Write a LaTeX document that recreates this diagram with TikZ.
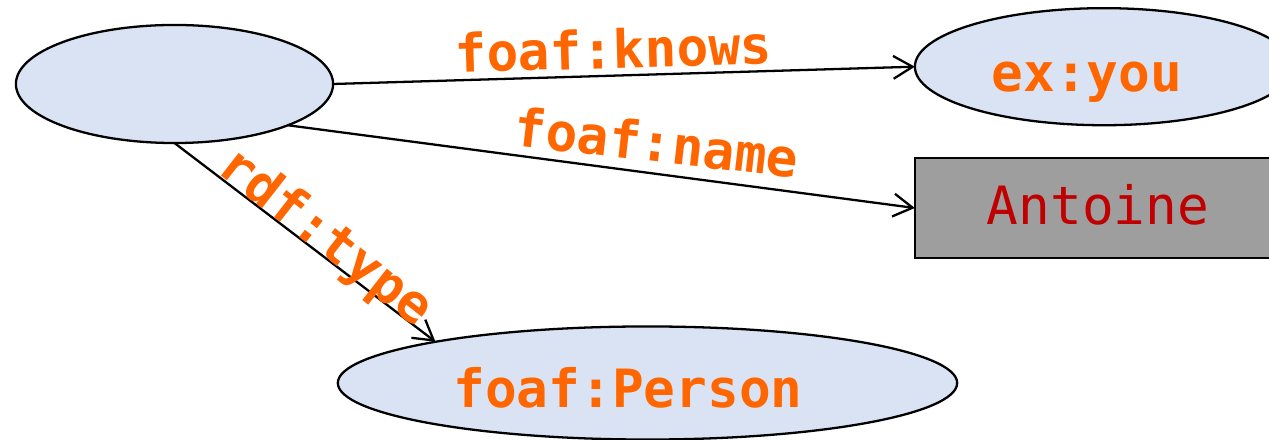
\documentclass[tikz,border=0pt]{standalone}
\usepackage{fontspec}
\setmonofont{DejaVu Sans Mono}
\usetikzlibrary{shapes.geometric,arrows.meta}
\definecolor{lblue}{HTML}{DAE3F3}
\definecolor{lorange}{HTML}{FF6600}
\definecolor{lgrey}{HTML}{9E9E9E}
\definecolor{dred}{HTML}{C00000}
\tikzset{
  res/.style={ellipse, draw=black, fill=lblue, line width=0.65pt, inner sep=0pt, outer sep=0pt},
  lit/.style={rectangle, draw=black, fill=lgrey, line width=0.65pt, inner sep=0pt, outer sep=0pt},
  lbl/.style={text=lorange, font=\ttfamily\bfseries\fontsize{15pt}{18pt}\selectfont, inner sep=0pt, anchor=base},
  littext/.style={text=dred, font=\ttfamily\fontsize{15pt}{18pt}\selectfont, inner sep=0pt, anchor=base},
  edge/.style={line width=0.65pt, -{Straight Barb[length=5.5pt,width=6.5pt,line width=0.65pt]}}
}
\begin{document}
\begin{tikzpicture}[x=0.01cm,y=-0.01cm]
\useasboundingbox (0,0) rectangle (1269,440);
\clip (0,0) rectangle (1269,440);
% nodes
\node[res, minimum width=3.17cm, minimum height=1.18cm] (blank) at (174.5,84) {};
\node[res, minimum width=3.78cm, minimum height=1.17cm] (you) at (1104,66.7) {};
\node[lit, minimum width=3.70cm, minimum height=1.00cm] (ant) at (1100,208) {};
\node[res, minimum width=6.19cm, minimum height=1.13cm] (person) at (647.5,383) {};
% node texts
\node[lbl] (youtext) at (1087,92) {ex:you};
\node[littext] (anttext) at (1098,225) {Antoine};
\node[lbl] (persontext) at (628,408) {foaf:Person};
% edges
\draw[edge] (blank.east) -- (you.west);
\draw[edge] (blank.-20) -- (ant.west);
\draw[edge] (blank.south) -- (person.169);
% edge labels
\node[lbl, rotate=1.6] (lknows) at (614,68.3) {foaf:knows};
\node[lbl, rotate=-6.5] (lname) at (654.5,161.7) {foaf:name};
\node[lbl, rotate=-38] (ltype) at (316,250) {rdf:type};
\end{tikzpicture}
\end{document}
